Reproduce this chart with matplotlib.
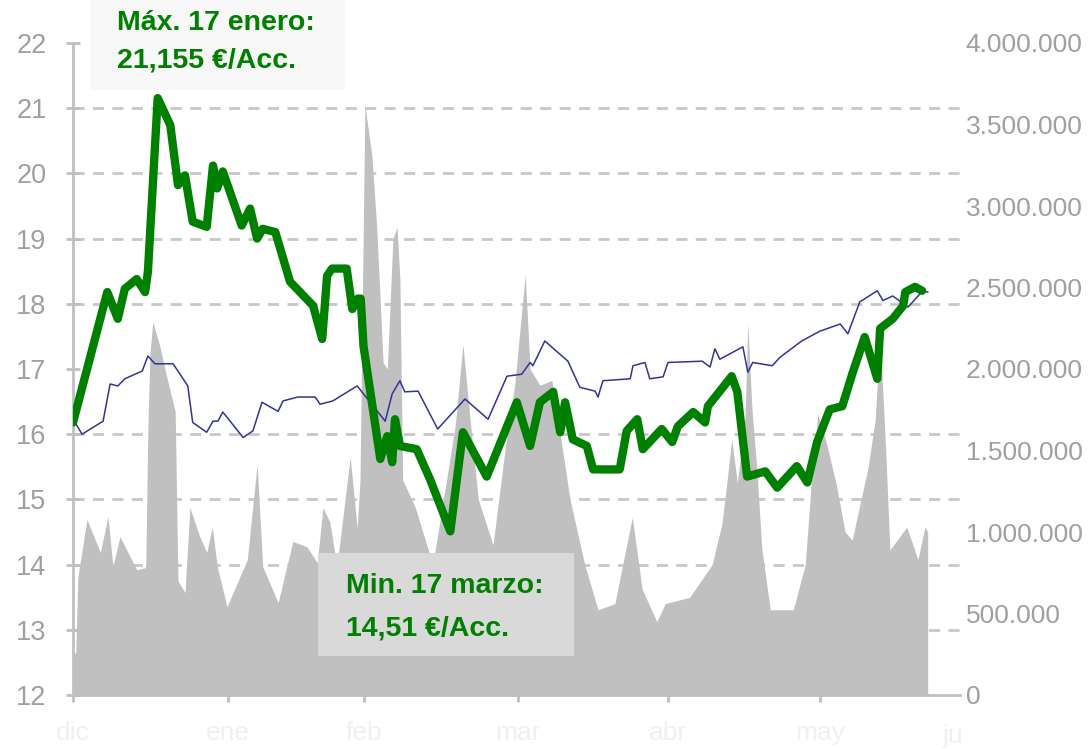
import matplotlib
matplotlib.use("Agg")
import matplotlib.pyplot as plt
from matplotlib.patches import Rectangle
from matplotlib.ticker import MultipleLocator, FuncFormatter

# ---------------- data (x = trading-day index from 1 Dec) ----------------
price_days = [0, 4.9, 6.4, 7.4, 9.1, 10.3, 10.7, 12.1, 13.9, 15, 16, 17.1, 19.1, 20, 20.6,
              21.4, 24.1, 25.3, 26.3, 27.1, 28.9, 31, 34.3, 35.6, 36.3, 37, 39.1, 39.9,
              40.7, 41.1, 41.5, 43.9, 44.9, 45.6, 46, 46.7, 49.1, 51, 53.9, 55.7, 59.1,
              63.4, 65.3, 66.7, 68.6, 69.6, 70.3, 71.4, 73.4, 74.3, 78.1, 79.1, 80.6,
              81.4, 84.1, 85.6, 86.4, 88.6, 90.3, 90.7, 94.1, 94.9, 96.3, 98.9, 100.6,
              103.4, 104.9, 106.3, 108.1, 109.9, 111.4, 113.1, 114.9, 115.3, 117.1,
              118.6, 118.9, 120.3, 121.3]
price = [16.18, 18.18, 17.77, 18.23, 18.38, 18.18, 18.49, 21.155, 20.74, 19.82, 19.97,
         19.26, 19.18, 20.12, 19.77, 20.03, 19.2, 19.46, 19.0, 19.15, 19.1, 18.34, 17.97,
         17.46, 18.43, 18.54, 18.54, 17.92, 18.08, 18.08, 17.35, 15.62, 15.97, 15.57,
         16.23, 15.82, 15.77, 15.31, 14.51, 16.03, 15.35, 16.49, 15.82, 16.49, 16.65,
         16.03, 16.49, 15.92, 15.82, 15.46, 15.46, 16.05, 16.23, 15.77, 16.08, 15.88,
         16.12, 16.34, 16.18, 16.43, 16.89, 16.65, 15.35, 15.43, 15.18, 15.51, 15.26,
         15.88, 16.38, 16.43, 16.95, 17.49, 16.85, 17.62, 17.77, 17.97, 18.18, 18.26, 18.2]

index_days = [0, 1.3, 4.3, 5.3, 6.4, 7.4, 9.9, 10.7, 11.7, 14.3, 16.4, 17.1, 19.1, 20,
              20.7, 21.4, 24.3, 25.7, 27, 29.3, 30, 32.1, 34.6, 35.3, 37.1, 40.6, 44.6,
              45.6, 46.7, 47.4, 49.3, 52.1, 56, 59.3, 62, 64.1, 65.3, 65.7, 67.4, 70.7,
              72.4, 74.6, 75, 75.7, 79.6, 80, 81.7, 82.4, 84.3, 85, 89.9, 91, 91.7, 92.4,
              95.7, 96.4, 97.1, 99.9, 101, 104.1, 106.7, 109.6, 110.7, 112.4, 114.9,
              115.7, 117.1, 119.3, 121.4, 122.1]
index_rebased = [16.23, 16.0, 16.2, 16.77, 16.74, 16.85, 16.97, 17.2, 17.08, 17.08, 16.74,
                 16.18, 16.03, 16.2, 16.2, 16.34, 15.95, 16.05, 16.49, 16.35, 16.51, 16.57,
                 16.57, 16.46, 16.51, 16.74, 16.2, 16.62, 16.82, 16.65, 16.66, 16.08,
                 16.54, 16.23, 16.89, 16.92, 17.1, 17.05, 17.43, 17.12, 16.72, 16.66,
                 16.57, 16.82, 16.85, 17.05, 17.1, 16.85, 16.88, 17.1, 17.12, 17.03,
                 17.31, 17.15, 17.34, 16.95, 17.1, 17.05, 17.18, 17.43, 17.58, 17.69,
                 17.54, 18.03, 18.2, 18.05, 18.12, 17.95, 18.2, 18.18]

volume_days = [0, 0.4, 0.7, 2, 3.9, 5, 5.7, 6.7, 9.1, 10.3, 10.4, 10.7, 11, 11.4, 12.4,
               13.4, 14.6, 15, 16, 16.7, 18.1, 19.1, 19.9, 20.6, 22, 24.9, 26.3, 27.1,
               29.3, 31.4, 33.4, 34.9, 35.7, 36.7, 37.7, 39.6, 40.6, 41, 41.7, 42.7, 43.4,
               44.3, 44.9, 45.7, 46.3, 46.7, 47.1, 48.9, 51.4, 53.1, 54.6, 55.7, 56.7,
               57.9, 60, 61.7, 63.1, 64.6, 65.3, 66.7, 68.4, 69.6, 71, 73.1, 75, 77.4,
               79.9, 81.3, 83.4, 84.6, 88.1, 91.3, 92.7, 93.4, 94.1, 94.9, 96, 96.4, 97,
               97.7, 98.4, 99.6, 102.9, 104.6, 105.6, 106.4, 107.6, 109, 110.3, 111.3,
               113.6, 114.6, 115.3, 116.1, 116.7, 119.1, 120, 120.7, 121.7, 122.1]
volume = [258000, 258000, 726000, 1077000, 874000, 1095000, 788000, 972000, 769000,
          780000, 800000, 1650000, 2100000, 2290000, 2140000, 1950000, 1740000, 700000,
          628000, 1150000, 972000, 874000, 1030000, 788000, 542000, 831000, 1415000,
          788000, 566000, 942000, 910000, 812000, 1150000, 1060000, 788000, 1460000,
          1020000, 1320000, 3620000, 3310000, 2860000, 2040000, 2000000, 2800000,
          2870000, 2550000, 1320000, 1150000, 800000, 1250000, 1650000, 2150000,
          1700000, 1200000, 920000, 1500000, 1900000, 2580000, 2000000, 1900000,
          1930000, 1600000, 1200000, 800000, 523000, 560000, 1090000, 650000, 450000,
          560000, 600000, 800000, 1050000, 1300000, 1570000, 1300000, 1700000, 2280000,
          1750000, 1380000, 900000, 523000, 523000, 800000, 1380000, 1720000, 1550000,
          1300000, 1000000, 950000, 1400000, 1690000, 2200000, 1500000, 890000, 1030000,
          920000, 830000, 1030000, 1000000]

month_labels = ["dic", "ene", "feb", "mar", "abr", "may"]
month_pos = [0, 22.1, 41.6, 63.6, 85, 106.7]
last_label = "ju"
last_label_pos = 125.7

left_ticks = list(range(12, 23))
right_ticks = [0, 500000, 1000000, 1500000, 2000000, 2500000, 3000000, 3500000, 4000000]

max_lines = ["Máx. 17 enero:", "21,155 €/Acc."]
min_lines = ["Min. 17 marzo:", "14,51 €/Acc."]

# ---------------- styling ----------------
GREEN = "#008000"
BLUE = "#333399"
VOLC = "#c0c0c0"
GRID = "#c8c8c8"
TICKC = "#a0a0a0"
plt.rcParams["font.family"] = ["Liberation Sans", "DejaVu Sans"]

W, H = 1089, 749
fig = plt.figure(figsize=(W / 100, H / 100), dpi=100)
fig.patch.set_facecolor("white")
rect = [73 / W, (H - 695) / H, (960 - 73) / W, (695 - 43) / H]

ax2 = fig.add_axes(rect)             # volume (right scale), drawn underneath
ax = fig.add_axes(rect, sharex=ax2)  # price (left scale), drawn on top
ax.patch.set_visible(False)

xmax = (960 - 73) / 7
ax2.set_xlim(0, xmax)

# volume area
ax2.fill_between(volume_days, volume, 0, color=VOLC, linewidth=0, zorder=2)
ax2.set_ylim(0, 4000000)
ax2.yaxis.tick_right()
ax2.set_yticks(right_ticks)
ax2.yaxis.set_major_formatter(FuncFormatter(lambda v, p: "{:,.0f}".format(v).replace(",", ".")))
ax2.yaxis.set_minor_locator(MultipleLocator(400000))
ax2.grid(False)
ax2.set_axisbelow(True)
ax2.yaxis.grid(True, which="minor", color=GRID, linestyle=(0, (4, 3)), linewidth=2.0, zorder=0)
ax2.tick_params(axis="y", which="minor", length=0)
ax2.tick_params(axis="y", which="major", length=0, pad=4, labelsize=19, labelcolor=TICKC)
for s in ["top", "left", "right"]:
    ax2.spines[s].set_visible(False)
ax2.spines["bottom"].set_color(VOLC)
ax2.spines["bottom"].set_linewidth(2)

ax2.set_xticks(month_pos)
ax2.set_xticklabels(month_labels)
ax2.tick_params(axis="x", direction="out", length=5, width=2, color=VOLC,
                labelsize=19, labelcolor="#f0f0f0", pad=14)
ax2.text(last_label_pos, -0.045, last_label, transform=ax2.get_xaxis_transform(),
         ha="center", va="top", fontsize=19, color="#f0f0f0", clip_on=False)

# price lines
ax.plot(index_days, index_rebased, color=BLUE, linewidth=1.1, zorder=3)
ax.plot(price_days, price, color=GREEN, linewidth=6.0, solid_joinstyle="round",
        solid_capstyle="round", zorder=4)
ax.set_ylim(12, 22)
ax.set_yticks(left_ticks)
ax.tick_params(axis="y", direction="inout", length=10, width=2, color=VOLC,
               labelsize=19.5, labelcolor=TICKC, pad=14)
ax.tick_params(axis="x", bottom=False, labelbottom=False)
for s in ["top", "right", "bottom"]:
    ax.spines[s].set_visible(False)
ax.spines["left"].set_color(VOLC)
ax.spines["left"].set_linewidth(2)

# annotation boxes (figure pixel coordinates converted to fractions)
fig.patches.append(Rectangle((90 / W, 1 - 90 / H), (345 - 90) / W, 90 / H,
                             transform=fig.transFigure, facecolor="#f4f4f4",
                             edgecolor="none", alpha=0.6, zorder=5))
fig.patches.append(Rectangle((318 / W, 1 - 656 / H), (574 - 318) / W, (656 - 553) / H,
                             transform=fig.transFigure, facecolor="#d9d9d9",
                             edgecolor="none", zorder=5))

for txt, yb in zip(max_lines, [30, 68]):
    fig.text(117 / W, 1 - yb / H, txt, ha="left", va="baseline", fontsize=20.5,
             fontweight="bold", color=GREEN, zorder=10)
for txt, yb in zip(min_lines, [593, 635]):
    fig.text(346 / W, 1 - yb / H, txt, ha="left", va="baseline", fontsize=20.5,
             fontweight="bold", color=GREEN, zorder=10)

fig.savefig("out.png", dpi=100, facecolor="white")
